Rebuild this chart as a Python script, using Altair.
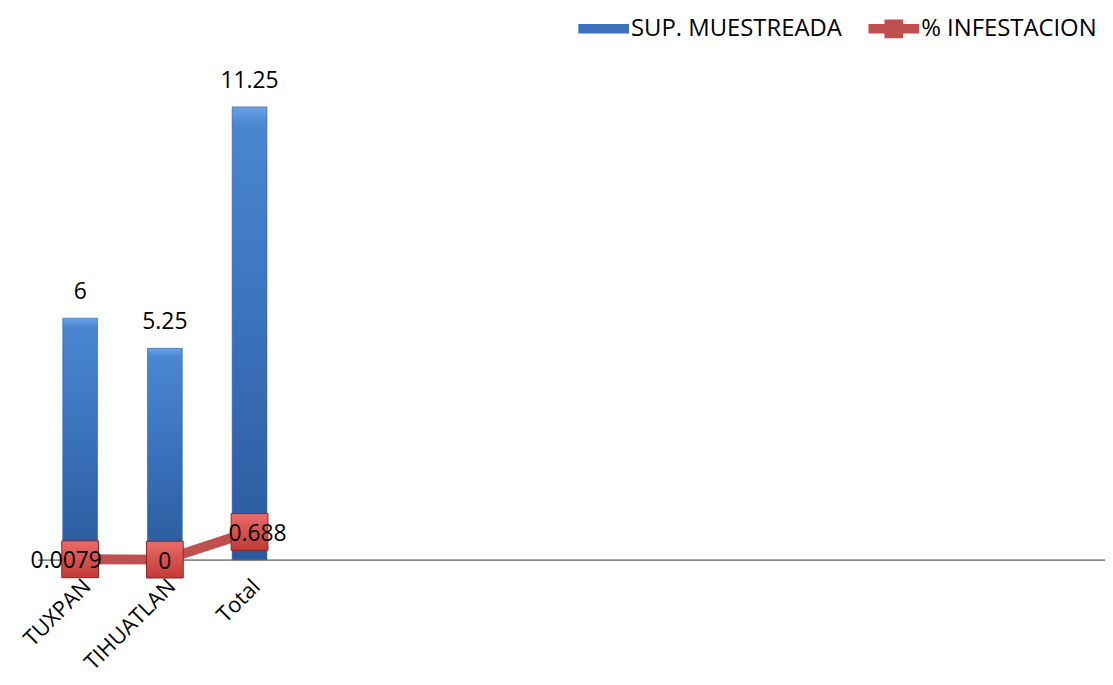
import altair as alt
import pandas as pd

categories = ["TUXPAN", "TIHUATLAN", "Total"]
sup_muestreada = [6, 5.25, 11.25]
pct_infestacion = [0.0079, 0, 0.688]
pct_labels = ["0.0079", "0", "0.688"]
series_names = ["SUP. MUESTREADA", "% INFESTACION"]

# empty category slots to the right, as in the reference
slots = categories + [f"_{i}" for i in range(4, 13)]

bars = pd.DataFrame({"cat": categories, "value": sup_muestreada,
                     "label": [f"{v:g}" for v in sup_muestreada]})
line = pd.DataFrame({"cat": categories, "value": pct_infestacion,
                     "label": pct_labels})
legend_df = pd.DataFrame({"series": series_names, "cat": [categories[0]] * 2,
                          "value": [0, 0]})

FONT = "Open Sans"
BLUE = "#3b72bb"
RED = "#c0504d"

xenc = alt.X("cat:N", sort=slots,
             scale=alt.Scale(domain=slots, paddingInner=0, paddingOuter=0.3, align=0),
             axis=alt.Axis(title=None, labelAngle=-45, labelFontSize=22, labelFont=FONT,
                           labelColor="#000", ticks=False, domainColor="#888",
                           domainWidth=2, labelPadding=16, labelLimit=0,
                           labelExpr="indexof(datum.value, '_') == 0 ? '' : datum.value"))
yscale = alt.Scale(domain=[0, 12], nice=False)
yenc = alt.Y("value:Q", scale=yscale, axis=None)

bar_grad = alt.Gradient(gradient="linear", x1=0, y1=0, x2=0, y2=1,
                        stops=[alt.GradientStop(offset=0, color="#6aa2e6"),
                               alt.GradientStop(offset=0.04, color="#4a86d2"),
                               alt.GradientStop(offset=0.5, color="#3a71bb"),
                               alt.GradientStop(offset=1, color="#2a5a9c")])

bar_layer = alt.Chart(bars).mark_bar(size=35, fill=bar_grad, stroke="#2a5a98",
                                     strokeWidth=0.6).encode(x=xenc, y=yenc)
bar_text = alt.Chart(bars).mark_text(dy=-14, baseline="bottom", font=FONT, fontSize=23,
                                     color="#000").encode(x=xenc, y=yenc, text="label:N")

line_layer = alt.Chart(line).mark_line(color=RED, strokeWidth=10).encode(
    x=xenc, y=yenc)
mark_grad = alt.Gradient(gradient="linear", x1=0, y1=0, x2=0, y2=1,
                         stops=[alt.GradientStop(offset=0, color="#ea6c68"),
                                alt.GradientStop(offset=1, color="#c23a36")])
point_layer = alt.Chart(line).mark_square(size=1369, opacity=1, stroke="#8a2624",
                                          strokeWidth=1, fill=mark_grad).encode(
    x=xenc, y=yenc)

legend_layer = alt.Chart(legend_df).mark_point(filled=True, opacity=0, size=1).encode(
    x=xenc, y=yenc,
    color=alt.Color("series:N",
                    scale=alt.Scale(domain=series_names, range=[BLUE, RED]),
                    legend=alt.Legend(orient="none", legendX=544, legendY=-74,
                                      direction="horizontal", title=None, padding=0,
                                      labelFont=FONT, labelFontSize=24, labelColor="#000",
                                      labelLimit=0, symbolSize=2600, symbolStrokeWidth=0,
                                      symbolOpacity=1, columnPadding=26, labelOffset=2)),
    shape=alt.Shape("series:N",
                    scale=alt.Scale(domain=series_names,
                                    range=["M-1,-0.19H1V0.19H-1Z",
                                           "M-1,-0.19H1V0.19H-1Z M-0.37,-0.37H0.37V0.37H-0.37Z"]),
                    legend=None))

def ptext(cat, dx):
    return alt.Chart(line).transform_filter(alt.datum.cat == cat).mark_text(
        dx=dx, dy=2, baseline="middle", font=FONT, fontSize=23, color="#000").encode(
        x=xenc, y=yenc, text="label:N")

chart = alt.layer(bar_layer, bar_text, line_layer, point_layer, legend_layer,
                  ptext("TUXPAN", -14), ptext("TIHUATLAN", 0), ptext("Total", 8)
                  ).properties(
    width=1074, height=486,
    autosize=alt.AutoSizeParams(type="none"),
    padding={"left": 30, "top": 67, "right": 0, "bottom": 122},
).configure_view(stroke=None)

chart.save("out.html", embed_options={"renderer": "svg", "actions": False})
